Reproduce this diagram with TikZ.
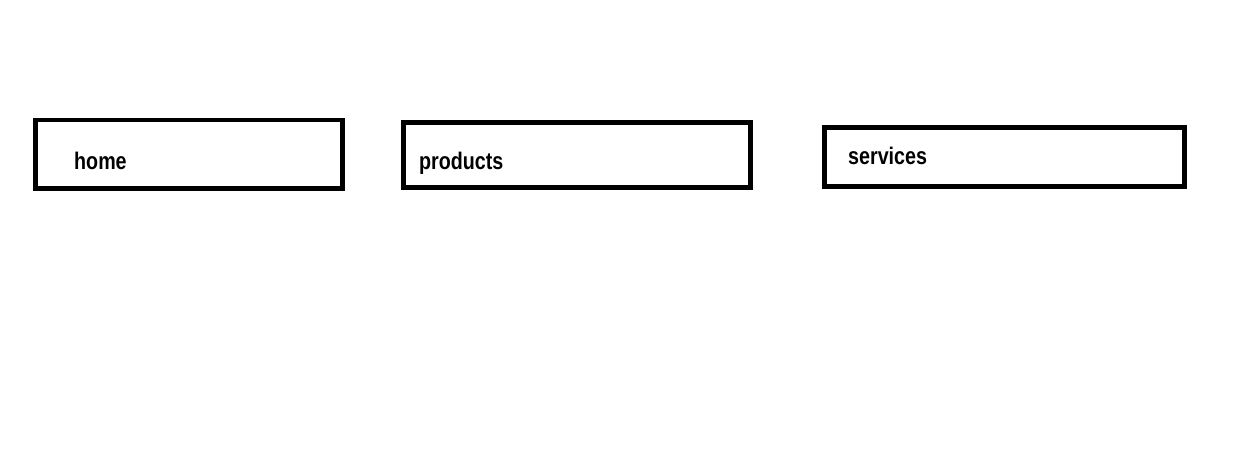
\documentclass[tikz,border=0pt]{standalone}
\usepackage{fontspec}
\setmainfont{Liberation Sans}[FakeStretch=0.82]
\begin{document}
\begin{tikzpicture}[x=1pt,y=-1pt,
  navbox/.style={draw=black,line width=4.8pt,rectangle,inner sep=0pt,fill=white},
  navlabel/.style={anchor=base west,inner sep=0pt,font=\fontsize{24}{28}\selectfont\bfseries}]
\useasboundingbox[fill=white] (0,0) rectangle (1242,449);
\node[navbox,minimum width=307.1pt,minimum height=68.7pt] (b1) at (189.15,154.35) {};
\node[navbox,minimum width=347.5pt,minimum height=65.2pt] (b2) at (577.05,154.9) {};
\node[navbox,minimum width=360pt,minimum height=59.3pt] (b3) at (1004.2,157.15) {};
\node[navlabel] (t1) at (74,170) {home};
\node[navlabel] (t2) at (419,170) {products};
\node[navlabel] (t3) at (848,165) {services};
\end{tikzpicture}
\end{document}
